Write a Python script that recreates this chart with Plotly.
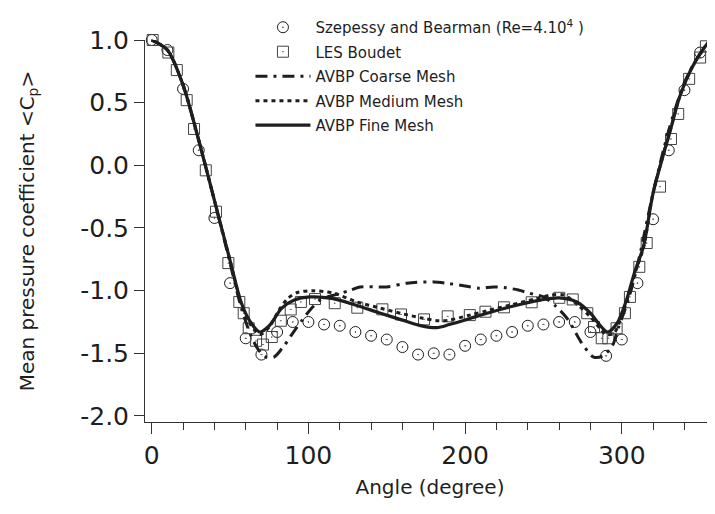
import plotly.graph_objects as go

# Szepessy and Bearman experiment (circles)
exp_angle = [0, 10, 20, 30, 40, 50, 60, 70, 80, 90, 100, 110, 120, 130, 140, 150, 160, 170, 180,
             190, 200, 210, 220, 230, 240, 250, 260, 270, 280, 290, 300, 310, 320, 330, 340, 350, 360]
exp_cp = [1.0, 0.92, 0.61, 0.12, -0.42, -0.94, -1.38, -1.51, -1.33, -1.25, -1.25, -1.27, -1.28, -1.33,
          -1.36, -1.39, -1.45, -1.51, -1.50, -1.51, -1.44, -1.39, -1.36, -1.33, -1.28, -1.27, -1.25,
          -1.25, -1.33, -1.52, -1.39, -0.94, -0.43, 0.12, 0.60, 0.90, 1.0]

# LES Boudet (squares)
les_angle = [0.6, 10.6, 16, 22.3, 27, 34.5, 41, 48.9, 55.9, 58.7, 61.9, 66.6, 71, 76.6, 82.4, 88.7,
             95.2, 104.2, 116.8, 131.2, 147.2, 159.1, 173.8, 188.9, 203, 213, 224.8, 242.5, 260.1,
             268.7, 278, 282.3, 287.2, 291.4, 296.7, 302, 305.2, 311.2, 315.9, 324.4, 331.4, 336,
             343, 350, 353.7, 358.5]
les_cp = [1.0, 0.90, 0.76, 0.52, 0.29, -0.04, -0.37, -0.78, -1.09, -1.18, -1.30, -1.40, -1.43, -1.37,
          -1.24, -1.15, -1.09, -1.067, -1.10, -1.136, -1.149, -1.19, -1.229, -1.205, -1.195, -1.168,
          -1.133, -1.093, -1.057, -1.07, -1.18, -1.29, -1.38, -1.38, -1.30, -1.18, -1.05, -0.81,
          -0.62, -0.17, 0.21, 0.41, 0.69, 0.86, 0.95, 1.0]

# AVBP coarse mesh
coarse_angle = [0, 10, 20, 30, 40, 50, 57, 63, 68, 73, 78, 85, 91, 96, 102, 108, 118, 126, 133, 150,
                163, 180, 188, 201, 209, 218, 225, 234, 241, 250, 258, 265, 269, 274, 282, 288, 294,
                298, 304, 310, 320, 330, 340, 350, 360]
coarse_cp = [1.0, 0.92, 0.64, 0.20, -0.28, -0.78, -1.13, -1.35, -1.47, -1.53, -1.53, -1.43, -1.32,
             -1.235, -1.14, -1.07, -1.03, -1.0, -0.97, -0.97, -0.94, -0.93, -0.94, -0.965, -0.98,
             -0.97, -0.975, -0.995, -1.02, -1.05, -1.125, -1.22, -1.30, -1.41, -1.53, -1.52, -1.44,
             -1.29, -1.08, -0.80, -0.22, 0.28, 0.66, 0.89, 1.0]

# AVBP medium mesh
medium_angle = [0, 10, 20, 30, 40, 50, 57, 63, 69, 75, 81, 87, 93, 103, 116, 131, 146, 161, 173, 183,
                190, 203, 214, 229, 245, 255, 263, 272, 280, 286, 290, 295, 300, 304, 309, 314, 320,
                331, 337, 344, 350, 356, 360]
medium_cp = [1.0, 0.92, 0.64, 0.20, -0.28, -0.76, -1.10, -1.27, -1.35, -1.29, -1.16, -1.06, -1.015,
             -1.0, -1.02, -1.09, -1.14, -1.187, -1.22, -1.24, -1.235, -1.195, -1.16, -1.115, -1.065,
             -1.035, -1.035, -1.115, -1.21, -1.30, -1.35, -1.34, -1.20, -1.05, -0.84, -0.65, -0.22,
             0.28, 0.55, 0.76, 0.89, 0.99, 1.0]

# AVBP fine mesh
fine_angle = [0, 10, 20, 30, 40, 50, 57, 63, 69, 75, 83, 91, 101, 115, 130, 145, 160, 173, 182, 190,
              203, 214, 229, 248, 260, 271, 280, 286, 291, 297, 303, 308, 314, 320, 331, 337, 344,
              350, 356, 360]
fine_cp = [1.0, 0.92, 0.64, 0.20, -0.28, -0.76, -1.09, -1.25, -1.33, -1.28, -1.14, -1.075, -1.05,
           -1.062, -1.115, -1.176, -1.235, -1.283, -1.295, -1.27, -1.222, -1.18, -1.128, -1.075,
           -1.057, -1.089, -1.18, -1.275, -1.33, -1.26, -1.075, -0.86, -0.64, -0.22, 0.28, 0.55,
           0.76, 0.89, 0.99, 1.0]

FONT = "DejaVu Sans"
INK = "#1e1e1e"

fig = go.Figure()

fig.add_trace(go.Scatter(
    x=exp_angle, y=exp_cp, mode="markers",
    name="Szepessy and Bearman (Re=4.10<sup>4</sup> )",
    marker=dict(symbol="circle-open-dot", size=11, color=INK, line=dict(width=1, color=INK)),
    cliponaxis=False, legendgroup="a"))

fig.add_trace(go.Scatter(
    x=les_angle, y=les_cp, mode="markers", name="LES Boudet",
    marker=dict(symbol="square-open-dot", size=11, color="#444444", line=dict(width=1, color="#444444")),
    cliponaxis=False, legendgroup="b"))

fig.add_trace(go.Scatter(
    x=coarse_angle, y=coarse_cp, mode="lines", name="AVBP Coarse Mesh",
    line=dict(color=INK, width=3, dash="12px,6px,3px,6px", shape="spline", smoothing=0.8),
    legendgroup="c"))

fig.add_trace(go.Scatter(
    x=medium_angle, y=medium_cp, mode="lines", name="AVBP Medium Mesh",
    line=dict(color=INK, width=3, dash="4px,4px", shape="spline", smoothing=0.8),
    legendgroup="d"))

fig.add_trace(go.Scatter(
    x=fine_angle, y=fine_cp, mode="lines", name="AVBP Fine Mesh",
    line=dict(color=INK, width=3.2, shape="spline", smoothing=0.8),
    legendgroup="e"))

# the page body has an 8px margin, so the figure is sized to fit inside it
fig.update_layout(
    width=707, height=506,
    margin=dict(l=137, r=0, t=32, b=92),
    paper_bgcolor="white", plot_bgcolor="white",
    font=dict(family=FONT, color=INK),
    showlegend=True,
    legend=dict(x=0.185, y=1.076, xanchor="left", yanchor="top",
                font=dict(size=15, family=FONT), bgcolor="rgba(0,0,0,0)",
                itemwidth=55, tracegroupgap=2),
)

fig.update_xaxes(
    range=[-4.3, 359.5], tickvals=[0, 100, 200, 300],
    showline=True, linecolor="#333333", linewidth=1, showgrid=False, zeroline=False,
    ticks="outside", ticklen=11, tickcolor="#333333",
    minor=dict(tickvals=[20, 40, 60, 80, 120, 140, 160, 180, 220, 240, 260, 280, 320, 340],
               ticks="outside", ticklen=7, tickcolor="#333333"),
    tickfont=dict(size=25, family=FONT),
    title=dict(text="Angle (degree)", font=dict(size=20, family=FONT), standoff=10),
)

fig.update_yaxes(
    range=[-2.048, 1.0], tickvals=[-2.0, -1.5, -1.0, -0.5, 0.0, 0.5, 1.0],
    ticktext=["-2.0", "-1.5", "-1.0", "-0.5", "0.0", "0.5", "1.0"],
    showline=True, linecolor="#333333", linewidth=1, showgrid=False, zeroline=False,
    ticks="outside", ticklen=10, tickcolor="#333333",
    tickfont=dict(size=25, family=FONT),
    title=dict(text="Mean pressure coefficient <C<sub>p</sub>>", font=dict(size=20, family=FONT),
               standoff=40),
)

fig.write_html("out.html")
